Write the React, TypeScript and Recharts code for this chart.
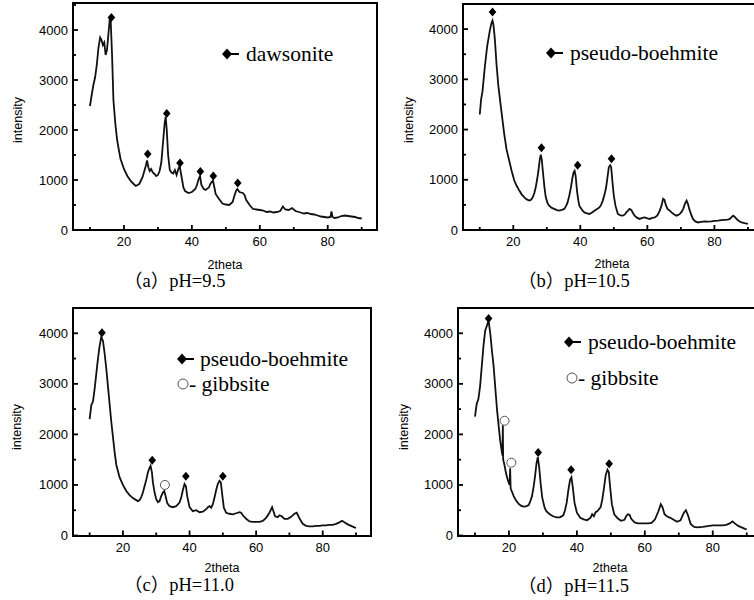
import { ComposedChart, Line, Scatter, XAxis, YAxis } from "recharts";

const SANS = '"Liberation Sans", Arial, sans-serif';
const SERIF = '"Liberation Serif", "Times New Roman", "Noto Sans CJK SC", serif';

// [2theta, intensity]
const scanPH95: [number, number][] = [
  [10, 2480], [10.5, 2700], [11, 2900], [11.5, 3050], [12, 3300], [12.5, 3650], [13, 3850],
  [13.4, 3800], [13.8, 3700], [14.2, 3750], [14.6, 3500], [15, 3600], [15.4, 3900], [15.8, 4200],
  [16.1, 4180], [16.5, 3500], [16.9, 2600], [17.5, 2100], [18, 1800], [18.5, 1600], [19, 1420],
  [20, 1220], [21, 1080], [22, 980], [23, 910], [23.5, 880], [24, 900], [24.5, 920], [25, 990],
  [25.5, 1060], [26, 1180], [26.5, 1300], [26.8, 1390], [27.2, 1250], [27.6, 1180], [28, 1220],
  [28.5, 1150], [29, 1120], [29.5, 1080], [30, 1100], [30.5, 1180], [31, 1350], [31.5, 1750],
  [32, 2150], [32.3, 2260], [32.6, 2000], [33, 1500], [33.5, 1200], [34, 1150], [34.5, 1130],
  [35, 1200], [35.5, 1100], [36, 1220], [36.4, 1280], [37, 1050], [37.5, 850], [38, 780],
  [39, 740], [40, 760], [41, 820], [41.5, 900], [42, 1020], [42.4, 1080], [42.8, 900], [43.5, 820],
  [44, 800], [45, 850], [45.5, 930], [46.2, 990], [46.6, 860], [47, 720], [48, 620], [49, 530],
  [50, 510], [51, 500], [52, 560], [52.5, 680], [53, 780], [53.4, 820], [54, 760], [55, 740],
  [55.5, 700], [56, 600], [57, 500], [58, 420], [59, 410], [60, 400], [61, 390], [62, 360],
  [63, 370], [64, 350], [65, 360], [66, 380], [66.8, 470], [67.5, 410], [68.5, 400], [69.5, 440],
  [70.5, 380], [72, 350], [73, 330], [74, 340], [75, 320], [76, 310], [77, 290], [78, 270],
  [79, 260], [80, 250], [80.8, 260], [81.1, 370], [81.4, 260], [82, 240], [83, 250], [84, 280],
  [85, 290], [86, 280], [87, 270], [88, 260], [89, 240], [90, 230]
];

const scanPH105: [number, number][] = [
  [10, 2300], [10.4, 2600], [10.8, 2750], [11.5, 3240], [12.2, 3650], [13, 3970], [13.5, 4120],
  [13.8, 4170], [14.1, 4080], [14.5, 3800], [15, 3300], [15.5, 2900], [16.3, 2450], [17.3, 1910],
  [18, 1600], [18.8, 1380], [19.5, 1180], [20.3, 985], [21, 880], [21.8, 785], [22.5, 710],
  [23.3, 650], [24, 610], [24.8, 585], [25.3, 600], [25.8, 650], [26.3, 740], [26.7, 850],
  [27.1, 1000], [27.5, 1180], [27.9, 1400], [28.2, 1500], [28.5, 1400], [28.9, 1115], [29.3, 850],
  [29.7, 650], [30.2, 540], [30.7, 485], [31.5, 440], [32.2, 420], [33, 395], [33.7, 385],
  [34.5, 400], [35.2, 420], [35.7, 470], [36.2, 550], [36.7, 680], [37.2, 850], [37.6, 1020],
  [38, 1150], [38.3, 1180], [38.6, 1080], [39, 785], [39.4, 590], [39.7, 485], [40.5, 400],
  [41.2, 350], [42, 330], [42.7, 320], [43.5, 350], [44.2, 385], [45, 420], [45.7, 450],
  [46.2, 500], [46.7, 585], [47.2, 700], [47.7, 850], [48.1, 1050], [48.5, 1250], [48.9, 1290],
  [49.2, 1250], [49.6, 950], [50, 680], [50.5, 480], [51.2, 320], [52, 290], [52.7, 285],
  [53.3, 310], [53.7, 350], [54.2, 380], [54.7, 420], [55.2, 400], [55.7, 340], [56.2, 285],
  [57, 240], [57.7, 220], [58.5, 240], [59.2, 250], [60, 230], [60.7, 220], [61.5, 240],
  [62.2, 250], [63, 290], [63.7, 385], [64.2, 480], [64.7, 620], [65.1, 600], [65.5, 500],
  [66, 420], [66.6, 390], [67.2, 350], [68, 310], [68.7, 285], [69.2, 300], [69.7, 320],
  [70.2, 360], [70.7, 420], [71.2, 520], [71.7, 585], [72.1, 520], [72.5, 420], [73, 320],
  [73.6, 220], [74.3, 170], [75.1, 150], [76, 160], [77.1, 170], [78, 165], [79.1, 170],
  [80, 180], [81.1, 185], [82, 195], [83.1, 200], [84, 205], [84.6, 220], [85.2, 260],
  [85.6, 285], [86.1, 260], [86.6, 220], [87.3, 180], [88.1, 150], [89, 135], [90, 120]
];

const scanPH110: [number, number][] = [
  [10, 2300], [10.5, 2580], [11, 2650], [11.5, 2900], [12, 3200], [12.5, 3500], [13, 3750],
  [13.5, 3930], [14, 3850], [14.5, 3600], [15, 3300], [15.5, 2950], [16, 2600], [16.5, 2250],
  [17, 1950], [17.5, 1650], [18, 1400], [19, 1150], [20, 1000], [21, 880], [22, 800], [23, 740],
  [24, 700], [24.5, 680], [25, 700], [25.5, 760], [26, 850], [26.5, 980], [27, 1100], [27.5, 1250],
  [28, 1340], [28.3, 1380], [28.7, 1250], [29, 1050], [29.5, 850], [30, 720], [30.5, 660],
  [31, 680], [31.5, 780], [32, 850], [32.4, 880], [32.8, 780], [33.3, 640], [34, 580], [35, 560],
  [36, 580], [37, 650], [37.5, 750], [38, 900], [38.5, 1020], [38.9, 980], [39.3, 780], [40, 560],
  [41, 480], [42, 500], [43, 460], [44, 470], [45, 520], [45.5, 560], [46, 580], [46.5, 550],
  [47, 620], [47.5, 750], [48, 900], [48.5, 1020], [49, 1080], [49.4, 1050], [49.8, 820],
  [50.3, 550], [51, 450], [52, 430], [53, 420], [54, 440], [55, 460], [55.5, 450], [56, 400],
  [57, 330], [58, 280], [59, 270], [60, 270], [61, 270], [62, 290], [63, 350], [64, 450],
  [64.8, 560], [65.2, 480], [65.7, 380], [66.5, 360], [67, 400], [67.7, 380], [68.5, 330],
  [69.5, 330], [70.5, 370], [71.5, 430], [72.2, 450], [73, 340], [74, 230], [75, 190], [76, 180],
  [77, 180], [78, 190], [79, 190], [80, 200], [81, 200], [82, 210], [83, 210], [84, 230],
  [85, 260], [85.8, 290], [86.5, 260], [87.5, 220], [88.5, 190], [89.5, 160], [90, 150]
];

const scanPH115: [number, number][] = [
  [10, 2350], [10.5, 2600], [11, 2700], [11.5, 2950], [12, 3350], [12.5, 3750], [13, 4050],
  [13.5, 4150], [14, 4250], [14.5, 4000], [15, 3650], [15.5, 3340], [16, 2900], [16.5, 2480],
  [17, 2150], [17.4, 1890], [17.8, 1700], [18.1, 1580], [18.2, 2180], [18.3, 1500], [18.6, 1420],
  [19, 1280], [19.4, 1160], [19.8, 1070], [20.2, 1000], [20.35, 1330], [20.5, 930], [20.8, 880],
  [21.4, 780], [22, 700], [22.8, 630], [23.5, 590], [24.3, 570], [25, 575], [25.8, 600],
  [26.3, 680], [26.8, 780], [27.3, 980], [27.7, 1180], [28.1, 1420], [28.5, 1550], [28.9, 1350],
  [29.3, 1050], [29.8, 750], [30.5, 550], [31, 480], [32, 420], [33, 380], [34, 360], [35, 360],
  [36, 400], [36.5, 500], [37, 650], [37.5, 900], [38, 1100], [38.4, 1150], [38.8, 950],
  [39.3, 650], [40, 450], [41, 350], [42, 320], [43, 300], [44, 350], [44.5, 420], [45, 380],
  [45.5, 460], [46, 480], [47, 560], [47.5, 720], [48, 950], [48.5, 1200], [49, 1300],
  [49.4, 1250], [49.8, 950], [50.3, 620], [51, 420], [52, 340], [53, 290], [54, 310], [54.5, 380],
  [55, 420], [55.5, 410], [56, 330], [57, 260], [58, 240], [59, 240], [60, 240], [61, 240],
  [62, 250], [63, 320], [64, 480], [64.7, 620], [65.2, 560], [65.8, 420], [66.5, 380],
  [67.5, 350], [68.5, 310], [69.5, 270], [70.5, 300], [71.5, 450], [72.1, 500], [72.7, 400],
  [73.5, 230], [74.5, 170], [75.5, 160], [77, 170], [78, 180], [79, 190], [80, 200], [81, 200],
  [82, 200], [83, 200], [84, 210], [85, 240], [85.8, 280], [86.5, 240], [87.5, 190], [88.5, 160],
  [89.5, 130], [90, 120]
];

// peak markers: diamonds = dawsonite / pseudo-boehmite, circles = gibbsite
const diamondsPH95: [number, number][] = [
  [16.3, 4250], [27, 1520], [32.6, 2330], [36.5, 1340], [42.5, 1170], [46.3, 1080], [53.5, 940]
];
const diamondsPH105: [number, number][] = [[13.8, 4340], [28.4, 1640], [39.2, 1290], [49.3, 1420]];
const diamondsPH110: [number, number][] = [[13.7, 4010], [28.8, 1490], [38.9, 1170], [50, 1170]];
const circlesPH110: [number, number][] = [[32.6, 1000]];
const diamondsPH115: [number, number][] = [[14, 4290], [28.6, 1640], [38.3, 1300], [49.5, 1420]];
const circlesPH115: [number, number][] = [[18.7, 2270], [20.7, 1440]];

const xTicks = [10, 20, 30, 40, 50, 60, 70, 80, 90];
const yTicks = [0, 500, 1000, 1500, 2000, 2500, 3000, 3500, 4000, 4500];
const xDomain: [number, number] = [5, 94.5];

const toPts = (rows: [number, number][]) => rows.map(([t, i]) => ({ t, i }));

// ticks point into the plot; drawn as small filled rects
function BottomTick(props: any) {
  const { x, y, payload } = props;
  const major = payload.value % 20 === 0;
  const len = major ? 5 : 3;
  return (
    <g>
      <rect x={x - 0.9} y={y - len} width={1.8} height={len} fill="#000" />
      {major && (
        <text x={x} y={y + 16} textAnchor="middle" fontSize={13} fontFamily={SANS} fill="#000">
          {payload.value}
        </text>
      )}
    </g>
  );
}

function LeftTick(props: any) {
  const { x, y, payload } = props;
  const major = payload.value % 1000 === 0;
  const len = major ? 5 : 3;
  return (
    <g>
      <rect x={x} y={y - 0.9} width={len} height={1.8} fill="#000" />
      {major && (
        <text x={x - 5} y={y + 4.5} textAnchor="end" fontSize={13} fontFamily={SANS} fill="#000">
          {payload.value}
        </text>
      )}
    </g>
  );
}

const Diamond = (p: any) => (
  <polygon
    points={`${p.cx},${p.cy - 4.5} ${p.cx + 3.8},${p.cy} ${p.cx},${p.cy + 4.5} ${p.cx - 3.8},${p.cy}`}
    fill="#000"
  />
);

const OpenCircle = (p: any) => (
  <circle cx={p.cx} cy={p.cy} r={4.5} fill="#fff" stroke="#555" strokeWidth={1} />
);

type Box = { left: number; top: number; w: number; h: number; yw: number; mt: number; mr: number; xh: number };

function Panel({
  box,
  scan,
  diamonds,
  circles,
  yMax
}: {
  box: Box;
  scan: [number, number][];
  diamonds: [number, number][];
  circles?: [number, number][];
  yMax: number;
}) {
  const plotW = box.w - box.yw - box.mr;
  const plotH = box.h - box.mt - box.xh;
  return (
    <div style={{ position: "absolute", left: box.left, top: box.top, width: box.w, height: box.h }}>
      <ComposedChart
        width={box.w}
        height={box.h}
        data={toPts(scan)}
        margin={{ top: box.mt, right: box.mr, left: 0, bottom: 0 }}
      >
        <XAxis
          dataKey="t"
          type="number"
          domain={xDomain}
          ticks={xTicks}
          interval={0}
          allowDataOverflow
          height={box.xh}
          tickSize={0}
          tickMargin={0}
          tickLine={false}
          axisLine={false}
          tick={(p: any) => <BottomTick {...p} />}
        />
        <YAxis
          type="number"
          domain={[0, yMax]}
          ticks={yTicks}
          interval={0}
          allowDataOverflow
          width={box.yw}
          tickSize={0}
          tickMargin={0}
          tickLine={false}
          axisLine={false}
          tick={(p: any) => <LeftTick {...p} />}
        />
        <Line
          dataKey="i"
          type="linear"
          stroke="#111"
          strokeWidth={1.8}
          dot={false}
          activeDot={false}
          isAnimationActive={false}
        />
        <Scatter data={toPts(diamonds)} dataKey="i" shape={Diamond} isAnimationActive={false} />
        {circles && (
          <Scatter data={toPts(circles)} dataKey="i" shape={OpenCircle} isAnimationActive={false} />
        )}
      </ComposedChart>
      {/* plot frame */}
      <div
        style={{
          position: "absolute",
          left: box.yw - 1,
          top: box.mt - 1,
          width: plotW + 2,
          height: plotH + 2,
          border: "2px solid #000",
          boxSizing: "border-box",
          pointerEvents: "none"
        }}
      />
    </div>
  );
}

function LegendDiamond({ x, y }: { x: number; y: number }) {
  return (
    <g>
      <polygon points={`${x},${y - 5.5} ${x + 5},${y} ${x},${y + 5.5} ${x - 5},${y}`} fill="#000" />
      <rect x={x + 3} y={y - 1} width={9} height={2} fill="#000" />
    </g>
  );
}

function Caption({ x, y, text }: { x: number; y: number; text: string }) {
  return (
    <text x={x} y={y} fontSize={18.5} fontFamily={SERIF} fill="#000">
      {text}
    </text>
  );
}

function YTitle({ x, y }: { x: number; y: number }) {
  return (
    <text
      x={x}
      y={y}
      transform={`rotate(-90 ${x} ${y})`}
      textAnchor="middle"
      dominantBaseline="central"
      fontSize={12.5}
      fontFamily={SANS}
      fill="#000"
    >
      intensity
    </text>
  );
}

function XTitle({ x, y }: { x: number; y: number }) {
  return (
    <text x={x} y={y} textAnchor="middle" fontSize={12.5} fontFamily={SANS} fill="#000">
      2theta
    </text>
  );
}

export default function App() {
  return (
    <div
      style={{
        position: "absolute",
        left: 0,
        top: 0,
        width: 754,
        height: 600,
        overflow: "hidden",
        background: "#fff"
      }}
    >
      <Panel
        box={{ left: 0, top: 0, w: 380, h: 300, yw: 73, mt: 3, mr: 3, xh: 70 }}
        scan={scanPH95}
        diamonds={diamondsPH95}
        yMax={4540}
      />
      <Panel
        box={{ left: 380, top: 0, w: 390, h: 300, yw: 83, mt: 4, mr: 7, xh: 70 }}
        scan={scanPH105}
        diamonds={diamondsPH105}
        yMax={4500}
      />
      <Panel
        box={{ left: 0, top: 300, w: 380, h: 300, yw: 73, mt: 8, mr: 9, xh: 64.5 }}
        scan={scanPH110}
        diamonds={diamondsPH110}
        circles={circlesPH110}
        yMax={4500}
      />
      <Panel
        box={{ left: 380, top: 300, w: 390, h: 300, yw: 78, mt: 8, mr: 8, xh: 64.5 }}
        scan={scanPH115}
        diamonds={diamondsPH115}
        circles={circlesPH115}
        yMax={4500}
      />
      <svg
        width={754}
        height={600}
        style={{ position: "absolute", left: 0, top: 0, pointerEvents: "none" }}
      >
        <YTitle x={18} y={120} />
        <YTitle x={409} y={120} />
        <YTitle x={17} y={427} />
        <YTitle x={404} y={427} />

        <XTitle x={225} y={268.5} />
        <XTitle x={612} y={268} />
        <XTitle x={222} y={571.5} />
        <XTitle x={610} y={571.5} />

        <Caption x={124} y={287} text="（a）pH=9.5" />
        <Caption x={518} y={287} text="（b）pH=10.5" />
        <Caption x={124} y={591} text="（c）pH=11.0" />
        <Caption x={518} y={592} text="（d）pH=11.5" />

        <LegendDiamond x={227} y={54} />
        <text x={246} y={61} fontSize={21.5} fontFamily={SERIF} fill="#000">dawsonite</text>

        <LegendDiamond x={551} y={53} />
        <text x={570} y={60} fontSize={21.5} fontFamily={SERIF} fill="#000">pseudo-boehmite</text>

        <LegendDiamond x={182} y={359} />
        <text x={200} y={366} fontSize={21.5} fontFamily={SERIF} fill="#000">pseudo-boehmite</text>
        <circle cx={183} cy={384} r={5} fill="#fff" stroke="#555" strokeWidth={1} />
        <text x={189} y={391} fontSize={21.5} fontFamily={SERIF} fill="#000">- gibbsite</text>

        <LegendDiamond x={569} y={342} />
        <text x={588} y={349} fontSize={21.5} fontFamily={SERIF} fill="#000">pseudo-boehmite</text>
        <circle cx={572} cy={378} r={5} fill="#fff" stroke="#555" strokeWidth={1} />
        <text x={578} y={385} fontSize={21.5} fontFamily={SERIF} fill="#000">- gibbsite</text>
      </svg>
    </div>
  );
}
